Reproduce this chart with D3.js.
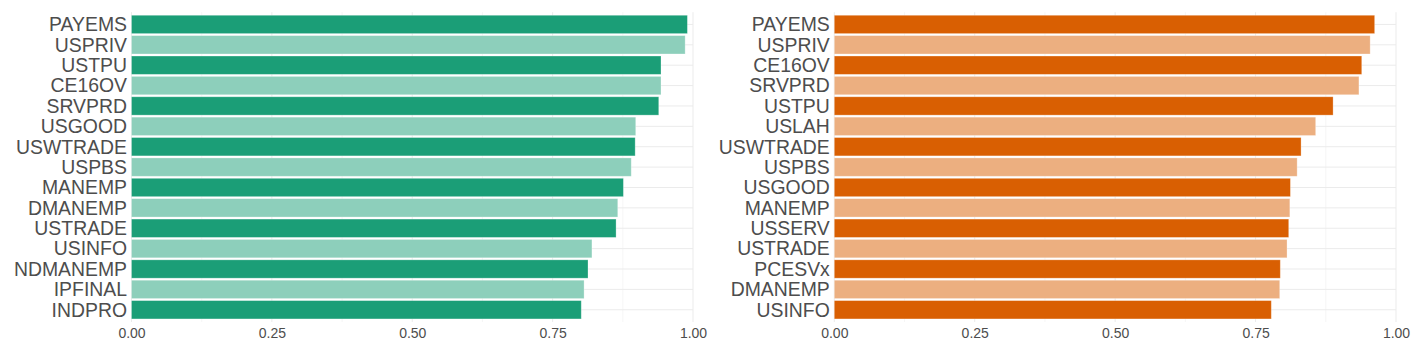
<!DOCTYPE html>
<meta charset="utf-8">
<style>
body { margin: 0; background: #fff; }
.tick text { font-family: "Liberation Sans", Arial, sans-serif; fill: #4d4d4d; }
.cat text { font-size: 19.4px; }
.num text { font-size: 14px; }
</style>
<body>
<svg width="1417" height="354"></svg>
<script src="https://d3js.org/d3.v7.min.js"></script>
<script>

// left panel
var leftNames = ["PAYEMS","USPRIV","USTPU","CE16OV","SRVPRD","USGOOD","USWTRADE","USPBS",
  "MANEMP","DMANEMP","USTRADE","USINFO","NDMANEMP","IPFINAL","INDPRO"];
var leftValues = [0.990,0.986,0.943,0.943,0.939,0.898,0.897,0.890,0.876,0.866,0.863,0.820,0.813,0.806,0.801];

// right panel
var rightNames = ["PAYEMS","USPRIV","CE16OV","SRVPRD","USTPU","USLAH","USWTRADE","USPBS",
  "USGOOD","MANEMP","USSERV","USTRADE","PCESVx","DMANEMP","USINFO"];
var rightValues = [0.962,0.954,0.939,0.934,0.888,0.857,0.831,0.824,0.812,0.811,0.809,0.806,0.794,0.793,0.778];

var ticks = [0, 0.25, 0.5, 0.75, 1];
var minorTicks = [0.125, 0.375, 0.625, 0.875];

var svg = d3.select("svg");

function panel(names, values, x0, x1, dark, light) {
  var top = 12.2, bottom = 322;
  var x = d3.scaleLinear().domain([0, 1]).range([x0, x1]);
  var y = d3.scaleBand().domain(names).range([top, bottom]).paddingInner(0.1).paddingOuter(0.15);
  var g = svg.append("g");

  // grid
  g.selectAll("line.minor").data(minorTicks).enter().append("line")
    .attr("x1", d => x(d)).attr("x2", d => x(d)).attr("y1", top).attr("y2", bottom)
    .attr("stroke", "#f0f0f0").attr("stroke-width", 0.6);
  g.selectAll("line.vmajor").data(ticks).enter().append("line")
    .attr("x1", d => x(d)).attr("x2", d => x(d)).attr("y1", top).attr("y2", bottom)
    .attr("stroke", "#ebebeb").attr("stroke-width", 1);
  g.selectAll("line.hmajor").data(names).enter().append("line")
    .attr("x1", x0).attr("x2", x1)
    .attr("y1", d => y(d) + y.bandwidth() / 2).attr("y2", d => y(d) + y.bandwidth() / 2)
    .attr("stroke", "#ebebeb").attr("stroke-width", 1);

  // bars
  g.selectAll("rect").data(names).enter().append("rect")
    .attr("x", x(0))
    .attr("y", d => y(d))
    .attr("width", (d, i) => x(values[i]) - x(0))
    .attr("height", y.bandwidth())
    .attr("fill", (d, i) => i % 2 == 0 ? dark : light)
    .attr("stroke", "#fff").attr("stroke-opacity", 0.35).attr("stroke-width", 0.8);

  // axes
  var ya = g.append("g").attr("class", "cat")
    .attr("transform", "translate(" + (x0 - 4.5) + ",0)")
    .call(d3.axisLeft(y).tickSize(0).tickPadding(0));
  ya.select(".domain").remove();
  ya.selectAll("text").attr("dy", "0.35em");

  var xa = g.append("g").attr("class", "num")
    .attr("transform", "translate(0," + (bottom + 6) + ")")
    .call(d3.axisBottom(x).tickValues(ticks).tickFormat(d3.format(".2f")).tickSize(0).tickPadding(0));
  xa.select(".domain").remove();
  xa.selectAll("text").attr("dy", "0.71em");
}

panel(leftNames, leftValues, 131.5, 693, "#1b9e77", "#8dcfbb");
panel(rightNames, rightValues, 834.3, 1396, "#d95f02", "#ecaf80");

</script>
</body>
</html>
